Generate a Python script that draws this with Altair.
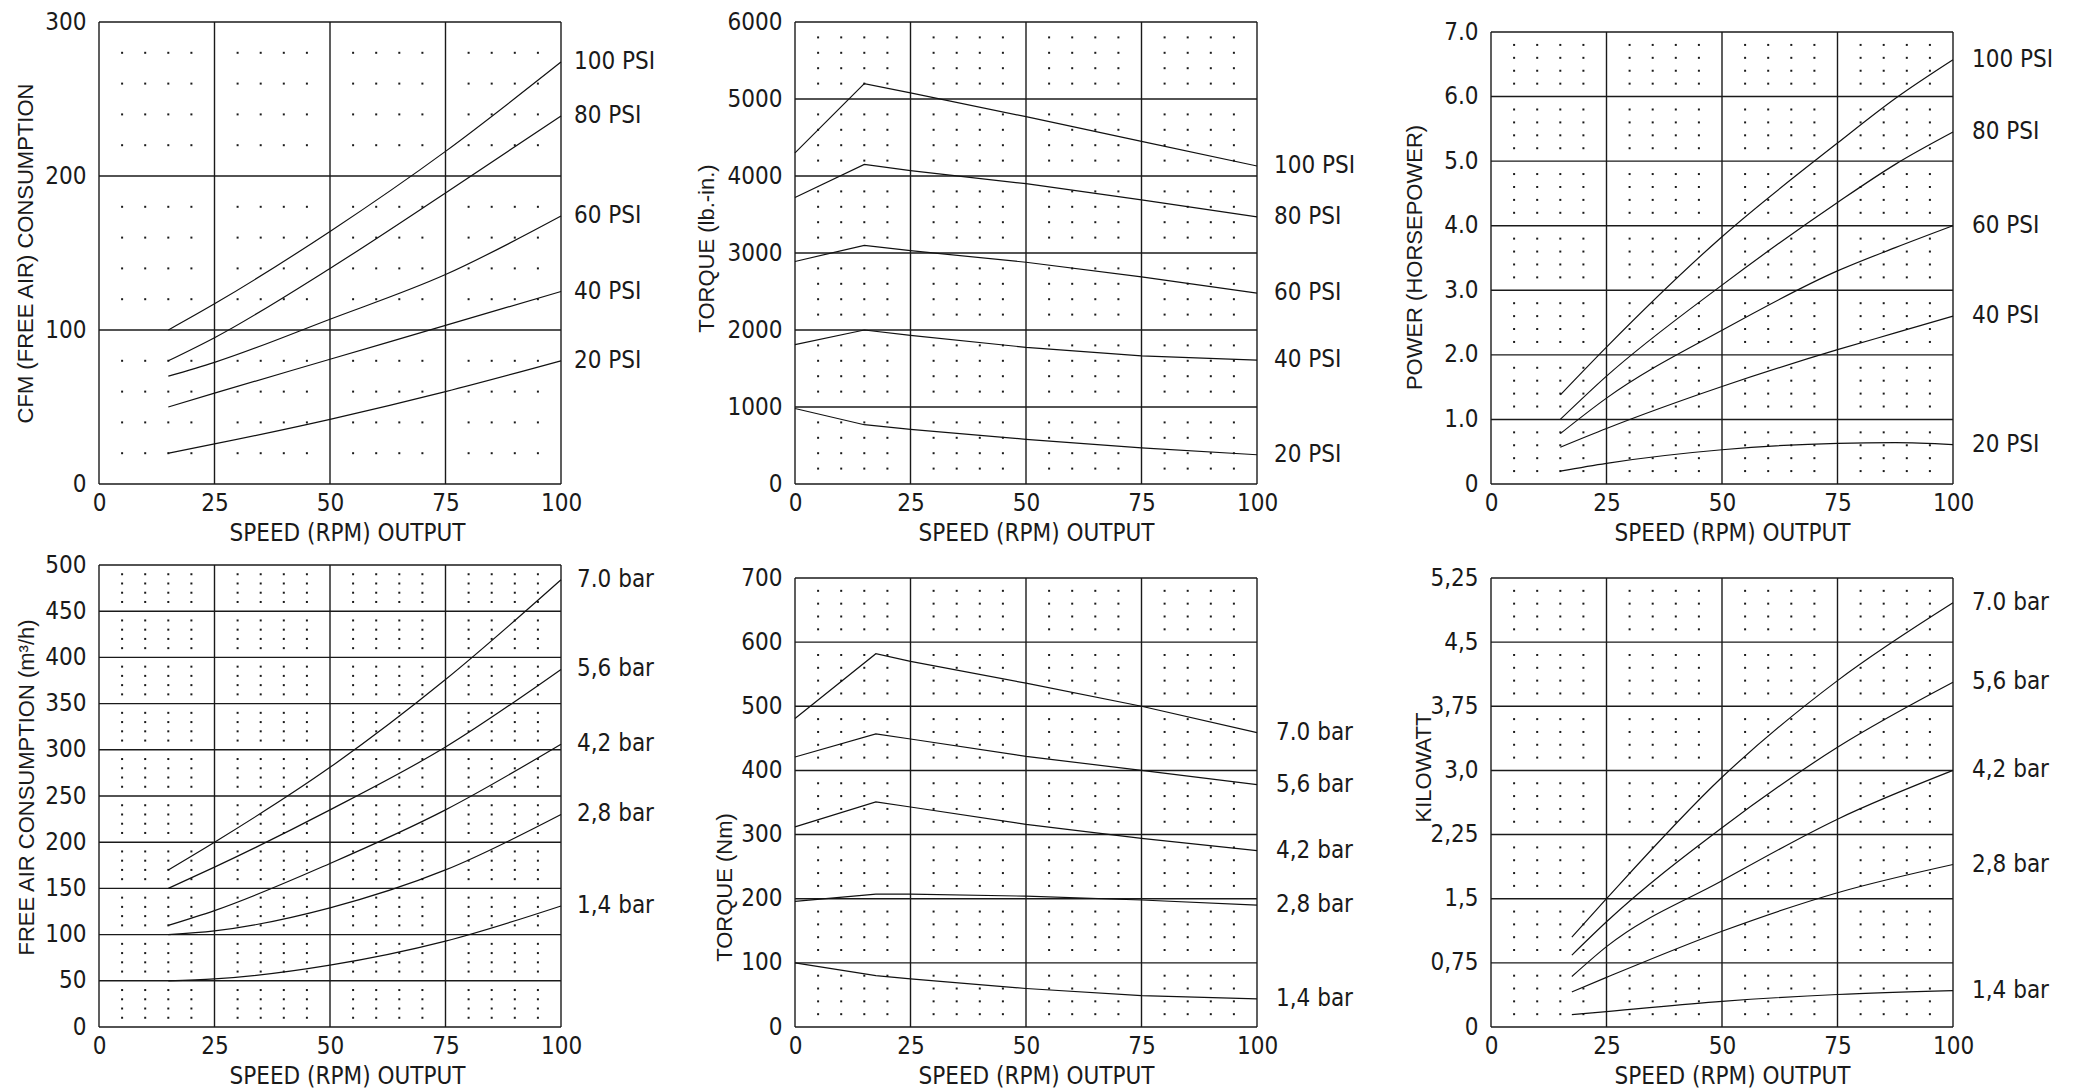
import altair as alt
import pandas as pd

NARROW = "Liberation Sans Narrow, DejaVu Sans Condensed, Roboto Condensed, Roboto, sans-serif"
WIDE = "Liberation Sans, Arial, sans-serif"
INK = "#1a1a1a"

X_TICKS = [0, 25, 50, 75, 100]
X_TICK_LABELS = ["0", "25", "50", "75", "100"]
X_DOTS = [5, 10, 15, 20, 30, 35, 40, 45, 55, 60, 65, 70, 80, 85, 90, 95]
X_TITLE = "SPEED (RPM) OUTPUT"

# ---- Panel 1: CFM (free air) consumption ----
CFM_X = [15, 25, 50, 75, 100]
CFM_100 = [100, 117, 164, 216, 274]
CFM_80 = [80, 95, 140, 189, 239]
CFM_60 = [70, 79, 107, 136, 174]
CFM_40 = [50, 59, 81, 103, 125]
CFM_20 = [20, 26, 42, 60, 80]
PSI_LABELS = ["100 PSI", "80 PSI", "60 PSI", "40 PSI", "20 PSI"]
CFM_TICKS = [0, 100, 200, 300]
CFM_TICK_LABELS = ["0", "100", "200", "300"]

# ---- Panel 2: Torque (lb.-in.) ----
TQI_X = [0, 15, 25, 50, 75, 100]
TQI_100 = [4300, 5200, 5080, 4770, 4450, 4130]
TQI_80 = [3720, 4150, 4070, 3900, 3690, 3470]
TQI_60 = [2890, 3100, 3030, 2880, 2690, 2480]
TQI_40 = [1810, 2000, 1930, 1775, 1665, 1610]
TQI_20 = [980, 770, 710, 580, 470, 380]
TQI_TICKS = [0, 1000, 2000, 3000, 4000, 5000, 6000]
TQI_TICK_LABELS = ["0", "1000", "2000", "3000", "4000", "5000", "6000"]

# ---- Panel 3: Power (horsepower) ----
HP_X = [15, 25, 50, 75, 87.5, 100]
HP_100 = [1.38, 2.12, 3.83, 5.28, 5.97, 6.57]
HP_80 = [1.0, 1.67, 3.08, 4.36, 4.95, 5.45]
HP_60 = [0.78, 1.33, 2.38, 3.30, 3.66, 4.0]
HP_40 = [0.57, 0.86, 1.51, 2.08, 2.34, 2.6]
HP_20 = [0.2, 0.32, 0.53, 0.63, 0.64, 0.61]
HP_TICKS = [0, 1, 2, 3, 4, 5, 6, 7]
HP_TICK_LABELS = ["0", "1.0", "2.0", "3.0", "4.0", "5.0", "6.0", "7.0"]

# ---- Panel 4: Free air consumption (m3/h) ----
FAC_X = [15, 25, 50, 75, 100]
FAC_70 = [170, 200, 281, 376, 484]
FAC_56 = [150, 173, 235, 303, 387]
FAC_42 = [110, 126, 177, 235, 306]
FAC_28 = [100, 104, 129, 170, 230]
FAC_14 = [50, 52, 67, 93, 131]
BAR_LABELS = ["7.0 bar", "5,6 bar", "4,2 bar", "2,8 bar", "1,4 bar"]
FAC_TICKS = [0, 50, 100, 150, 200, 250, 300, 350, 400, 450, 500]
FAC_TICK_LABELS = ["0", "50", "100", "150", "200", "250", "300", "350", "400", "450", "500"]

# ---- Panel 5: Torque (Nm) ----
TQN_X = [0, 17.5, 25, 50, 75, 100]
TQN_70 = [481, 582, 570, 536, 500, 459]
TQN_56 = [421, 457, 449, 422, 400, 378]
TQN_42 = [312, 351, 343, 316, 294, 275]
TQN_28 = [196, 207, 207, 204, 198, 190]
TQN_14 = [100, 80, 75, 60, 49, 44]
TQN_TICKS = [0, 100, 200, 300, 400, 500, 600, 700]
TQN_TICK_LABELS = ["0", "100", "200", "300", "400", "500", "600", "700"]

# ---- Panel 6: Kilowatt ----
KW_X = [17.5, 25, 50, 75, 100]
KW_70 = [1.05, 1.5, 2.92, 4.05, 4.96]
KW_56 = [0.84, 1.23, 2.33, 3.27, 4.03]
KW_42 = [0.59, 0.94, 1.71, 2.43, 3.0]
KW_28 = [0.41, 0.58, 1.12, 1.57, 1.9]
KW_14 = [0.145, 0.18, 0.30, 0.38, 0.425]
KW_TICKS = [0, 0.75, 1.5, 2.25, 3.0, 3.75, 4.5, 5.25]
KW_TICK_LABELS = ["0", "0,75", "1,5", "2,25", "3,0", "3,75", "4,5", "5,25"]

W = 462
ROW_H = 462
FS = 24


def label_expr(vals, labs):
    expr = "''"
    for v, l in reversed(list(zip(vals, labs))):
        expr = f"datum.value == {v} ? '{l}' : {expr}"
    return expr


def minor_steps(ticks):
    out = []
    for a, b in zip(ticks[:-1], ticks[1:]):
        for k in range(1, 5):
            out.append(a + (b - a) * k / 5)
    return out


def make_panel(title, xs_vals, series, labels, yticks, ylabels, top, interp,
               title_x, title_y, label_dx, xtitle_dx):
    ymax = yticks[-1]
    H = ROW_H
    ys = alt.Scale(domain=[0, ymax], range=[H, top], nice=False, zero=False)
    xs = alt.Scale(domain=[0, 100], nice=False, zero=False)

    rows = []
    for name, vals in zip(labels, series):
        for x, y in zip(xs_vals, vals):
            rows.append({"x": x, "y": y, "s": name})
    df = pd.DataFrame(rows)
    ends = pd.DataFrame([{"x": xs_vals[-1], "y": vals[-1], "s": name}
                         for name, vals in zip(labels, series)])
    vgrid = pd.DataFrame({"x": X_TICKS, "y0": [0] * len(X_TICKS), "y1": [ymax] * len(X_TICKS)})
    hgrid = pd.DataFrame({"y": yticks, "x0": [0] * len(yticks), "x1": [100] * len(yticks)})
    dots = pd.DataFrame([{"x": x, "y": y} for x in X_DOTS for y in minor_steps(yticks)])

    x_axis = alt.Axis(values=X_TICKS, labelExpr=label_expr(X_TICKS, X_TICK_LABELS),
                      title=X_TITLE, grid=False, domain=False, ticks=False, tickSize=0,
                      labelPadding=7, labelFont=NARROW, labelFontSize=FS, labelColor=INK,
                      labelFlush=False, labelOverlap=False,
                      titleFont=NARROW, titleFontSize=FS, titleFontWeight="normal",
                      titleColor=INK, titleX=W / 2 + xtitle_dx, titleY=56,
                      titleBaseline="alphabetic", titleAlign="center")
    y_axis = alt.Axis(values=yticks, labelExpr=label_expr(yticks, ylabels),
                      title=title, grid=False, domain=False, ticks=False, tickSize=0,
                      labelPadding=13, labelFont=NARROW, labelFontSize=FS, labelColor=INK,
                      labelFlush=False, labelOverlap=False,
                      titleFont=WIDE, titleFontSize=22, titleFontWeight="normal",
                      titleColor=INK, titleAngle=270, titleX=title_x, titleY=title_y,
                      titleBaseline="alphabetic", titleAlign="center")

    def X(field):
        return alt.X(field, scale=xs, axis=x_axis)

    def Y(field):
        return alt.Y(field, scale=ys, axis=y_axis)

    vr = alt.Chart(vgrid).mark_rule(color=INK, strokeWidth=1.4).encode(
        x=X("x:Q"), y=Y("y0:Q"), y2="y1:Q")
    hr = alt.Chart(hgrid).mark_rule(color=INK, strokeWidth=1.4).encode(
        y=Y("y:Q"), x=X("x0:Q"), x2="x1:Q")
    dt = alt.Chart(dots).mark_square(size=4, color=INK, opacity=1).encode(
        x=X("x:Q"), y=Y("y:Q"))
    ln = alt.Chart(df).mark_line(color="#111111", strokeWidth=1.2, interpolate=interp).encode(
        x=X("x:Q"), y=Y("y:Q"), detail="s:N")
    tx = alt.Chart(ends).mark_text(align="left", baseline="middle", dx=label_dx,
                                   font=NARROW, fontSize=FS, color=INK).encode(
        x=X("x:Q"), y=Y("y:Q"), text="s:N")
    return alt.layer(vr, hr, dt, ln, tx).properties(width=W, height=H)


p1 = make_panel("CFM (FREE AIR) CONSUMPTION", CFM_X,
                [CFM_100, CFM_80, CFM_60, CFM_40, CFM_20], PSI_LABELS,
                CFM_TICKS, CFM_TICK_LABELS, 0, "monotone", -67, 231, 13, 17)
p2 = make_panel("TORQUE (lb.-in.)", TQI_X,
                [TQI_100, TQI_80, TQI_60, TQI_40, TQI_20], PSI_LABELS,
                TQI_TICKS, TQI_TICK_LABELS, 0, "linear", -82, 226, 17, 10)
p3 = make_panel("POWER (HORSEPOWER)", HP_X,
                [HP_100, HP_80, HP_60, HP_40, HP_20], PSI_LABELS,
                HP_TICKS, HP_TICK_LABELS, 10, "monotone", -70, 235, 19, 10)
p4 = make_panel("FREE AIR CONSUMPTION (m³/h)", FAC_X,
                [FAC_70, FAC_56, FAC_42, FAC_28, FAC_14], BAR_LABELS,
                FAC_TICKS, FAC_TICK_LABELS, 0, "monotone", -66, 222, 16, 17)
p5 = make_panel("TORQUE (Nm)", TQN_X,
                [TQN_70, TQN_56, TQN_42, TQN_28, TQN_14], BAR_LABELS,
                TQN_TICKS, TQN_TICK_LABELS, 13, "linear", -64, 322, 19, 10)
p6 = make_panel("KILOWATT", KW_X,
                [KW_70, KW_56, KW_42, KW_28, KW_14], BAR_LABELS,
                KW_TICKS, KW_TICK_LABELS, 13, "monotone", -61, 202, 19, 10)

chart = alt.concat(p1, p2, p3, p4, p5, p6, columns=3,
                   spacing={"row": 81, "column": 234}, bounds="flush").properties(
    padding={"left": 5, "top": 2, "right": 5, "bottom": 0},
    background="white",
).configure_view(stroke=None)

chart.save("out.html", embed_options={"renderer": "svg", "actions": False})
